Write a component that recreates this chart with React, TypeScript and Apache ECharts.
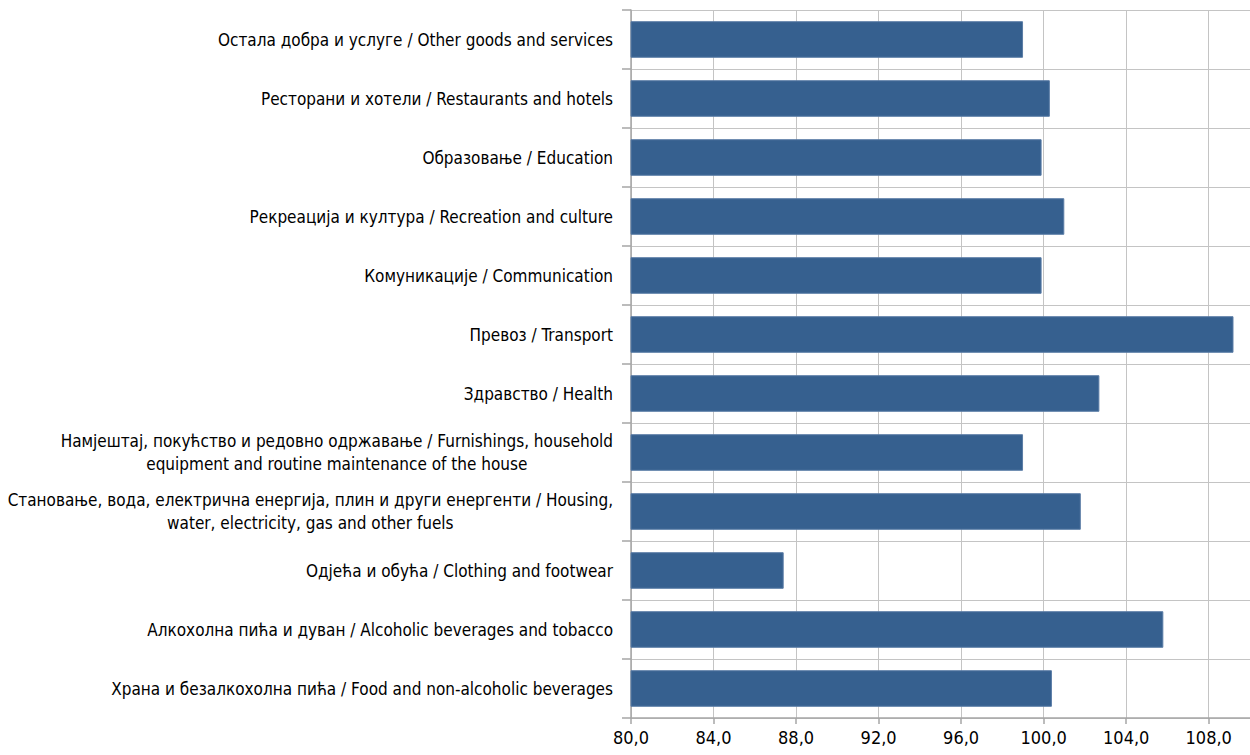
import React, { useEffect, useRef } from "react";
import * as echarts from "echarts";

const categories = [
  "Храна и безалкохолна пића / Food and non-alcoholic beverages",
  "Алкохолна пића и дуван / Alcoholic beverages and tobacco",
  "Одјећа и обућа / Clothing and footwear",
  "Становање, вода, електрична енергија, плин и други енергенти / Housing,\nwater, electricity, gas and other fuels",
  "Намјештај, покућство и редовно одржавање / Furnishings, household\nequipment and routine maintenance of the house",
  "Здравство / Health",
  "Превоз / Transport",
  "Комуникације / Communication",
  "Рекреација и култура / Recreation and culture",
  "Образовање / Education",
  "Ресторани и хотели / Restaurants and hotels",
  "Остала добра и услуге / Other goods and services",
];

const values = [100.4, 105.8, 87.4, 101.8, 99.0, 102.7, 109.2, 99.9, 101.0, 99.9, 100.3, 99.0];

const xMin = 80;
const xMax = 110;
const xInterval = 4;

const FONT = "'DejaVu Sans Condensed', 'Liberation Sans', Arial, sans-serif";

export default function App() {
  const ref = useRef<HTMLDivElement>(null);
  useEffect(() => {
    if (!ref.current) return;
    const chart = echarts.init(ref.current, null, { renderer: "svg" });
    chart.setOption({
      animation: false,
      backgroundColor: "#ffffff",
      grid: { left: 631, right: 0, top: 10, bottom: 37, containLabel: false },
      xAxis: {
        type: "value",
        min: xMin,
        max: xMax,
        interval: xInterval,
        axisLine: { show: true, lineStyle: { color: "#a6a6a6", width: 1.5 } },
        axisTick: { show: true, length: 6, lineStyle: { color: "#a6a6a6", width: 1.5 } },
        splitLine: { show: true, lineStyle: { color: "#c4c4c4", width: 1 } },
        axisLabel: {
          showMaxLabel: false,
          margin: 10,
          color: "#000000",
          fontFamily: FONT,
          fontSize: 18,
          formatter: (v: number) => v.toFixed(1).replace(".", ","),
        },
      },
      yAxis: {
        type: "category",
        data: categories,
        axisLine: { show: true, lineStyle: { color: "#a6a6a6", width: 1.5 } },
        axisTick: { show: true, length: 9, lineStyle: { color: "#a6a6a6", width: 1.5 } },
        splitLine: { show: true, lineStyle: { color: "#c4c4c4", width: 1 } },
        axisLabel: {
          margin: 18,
          color: "#000000",
          fontFamily: FONT,
          fontSize: 17,
          lineHeight: 23,
          formatter: (v: string) =>
            v
              .split("\n")
              .map((s) => "{c|" + s + "}")
              .join("\n"),
          rich: {
            c: { align: "center", fontFamily: FONT, fontSize: 17, lineHeight: 23, color: "#000000" },
          },
        },
      },
      series: [
        {
          type: "bar",
          data: values,
          barCategoryGap: "38%",
          itemStyle: { color: "#36608f", borderColor: "#5a7ca6", borderWidth: 1 },
        },
      ],
    });
    return () => chart.dispose();
  }, []);
  return (
    <div
      ref={ref}
      style={{ position: "fixed", left: 0, top: 0, width: 1250, height: 755 }}
    />
  );
}
